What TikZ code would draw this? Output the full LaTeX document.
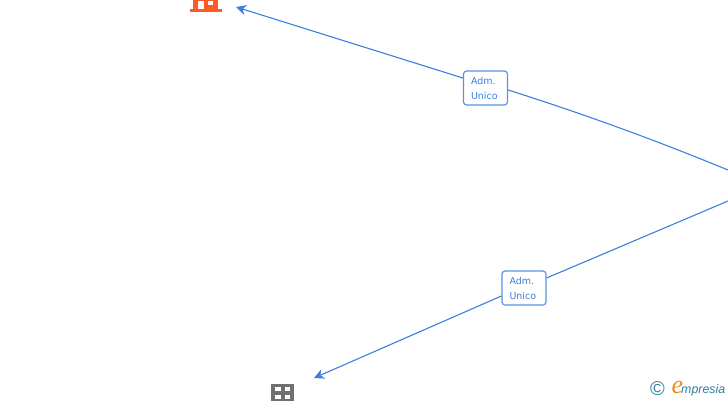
\documentclass[tikz,border=0pt]{standalone}
\usepackage{fontspec}
\setmainfont{DejaVu Sans}
\newfontfamily\logofont{Liberation Sans}
\newfontfamily\logoefont{Liberation Serif}
\usetikzlibrary{arrows.meta}
\definecolor{linkblue}{HTML}{3C7FDC}
\definecolor{boxblue}{HTML}{5594E6}
\definecolor{iconorange}{HTML}{FF5A26}
\definecolor{icongray}{HTML}{707070}
\definecolor{logoteal}{HTML}{2F7F9B}
\definecolor{logoorange}{HTML}{F08A1D}
\newcommand{\admtext}{\rule{0pt}{9pt}Adm.\\Unico}
\tikzset{
    admbox/.style={draw=boxblue, fill=white, rounded corners=3pt, line width=1.2pt,
        minimum height=34pt, inner ysep=0pt, inner xsep=7.5pt, text width=29pt, text=linkblue,
        align=left, font=\fontsize{9.5}{15}\selectfont},
    link/.style={draw=linkblue, line width=1.1pt},
    linkarrow/.style={link, -{Stealth[length=10pt,width=10pt,inset=3pt]}},
}
\begin{document}
\begin{tikzpicture}[x=1pt,y=-1pt]
    \useasboundingbox (0,0) rectangle (728,400);

    % Free ends of the connectors
    \coordinate (topin) at (728,170);
    \coordinate (topout) at (236,7);
    \coordinate (botin) at (728,201);
    \coordinate (botout) at (314,378);

    % Labels
    \node[admbox] (admtop) at (485.5,88) {\admtext};
    \node[admbox] (admbot) at (524,288) {\admtext};

    % Connectors
    \draw[link] (topin) .. controls (660,142) and (590,116) .. (admtop.east |- 0,90);
    \draw[linkarrow] (admtop.west |- 0,78) -- (topout);
    \draw[link] (botin) -- (admbot.east |- 0,278);
    \draw[linkarrow] (admbot.west |- 0,296) -- (botout);

    % Orange building
    \fill[iconorange] (193,-1) rectangle (218,9);
    \fill[iconorange] (190,8.7) rectangle (221.5,11.5);
    \fill[white] (198.3,1) rectangle (204,8.7);
    \fill[white] (207.5,1) rectangle (213,5);

    % Gray block
    \fill[icongray] (271,383.5) rectangle (293.5,401);
    \foreach \x in {275.2,284.5} {
        \foreach \y in {387,395} {
            \fill[white] (\x,\y) rectangle ++(5.3,4);
        }
    }

    % Logo
    \node[text=logoteal, font=\logofont\fontsize{20}{20}\selectfont, inner sep=0pt] (copyr) at (657.5,389) {©};
    \node[text=logoorange, font=\logoefont\fontsize{26}{26}\selectfont\itshape, inner sep=0pt, anchor=base west] (logoe) at (671.5,393.5) {e};
    \node[text=logoteal, font=\logofont\fontsize{12.4}{12}\selectfont\itshape, inner sep=0pt, anchor=base west] (logotext) at (681,393) {mpresia};

\end{tikzpicture}
\end{document}
